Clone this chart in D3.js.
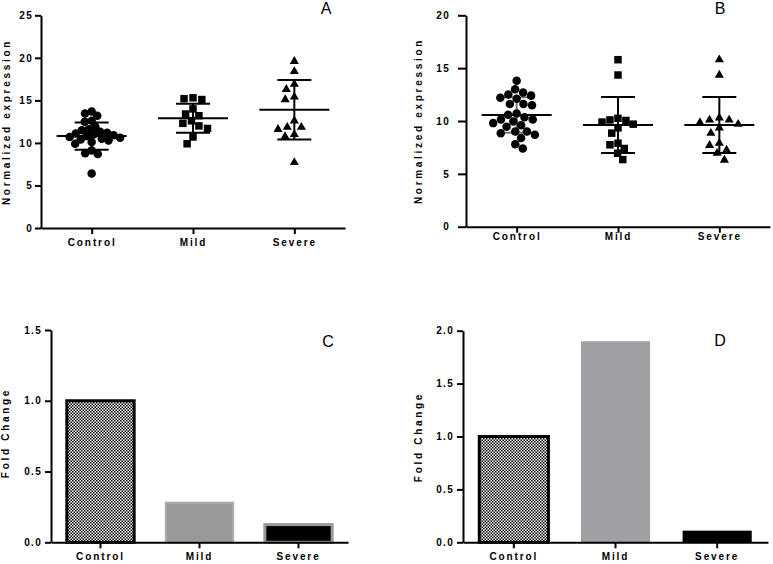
<!DOCTYPE html>
<html><head><meta charset="utf-8">
<script src="https://cdn.jsdelivr.net/npm/d3@7"></script>
<style>
html,body{margin:0;padding:0;background:#fff;}
svg{display:block;}
.tick text{font-family:"Liberation Sans",Arial,sans-serif;font-weight:bold;font-size:10px;fill:#000;}
</style></head>
<body>
<svg id="chart" width="773" height="564"></svg>
<script>
// ---------------- data ----------------
const categories = ["Control", "Mild", "Severe"];
const yTicksA = [0, 5, 10, 15, 20, 25];
const yTicksB = [0, 5, 10, 15, 20];
const yTicksC = [0, 0.5, 1.0, 1.5];
const yTicksD = [0, 0.5, 1.0, 1.5, 2.0];

const A_control = [13.7, 13.45, 13.2, 12.6, 12.5, 11.9, 11.6, 11.5, 11.3, 11.2, 11.1, 11.0, 10.9, 10.8, 10.7, 10.6, 10.5, 10.4, 10.3, 10.1, 9.9, 9.1, 8.8, 8.7, 6.4];
const A_mild = [15.3, 15.2, 15.1, 14.0, 13.4, 13.2, 12.6, 12.3, 12.0, 11.7, 10.7, 9.9];
const A_severe = [19.6, 18.4, 16.9, 16.3, 15.4, 15.1, 12.6, 11.85, 11.85, 11.6, 11.0, 10.75, 7.7];
const A_mean = [10.8, 12.9, 13.9];
const A_sd = [1.6, 1.7, 3.5];

const B_control = [13.8, 13.0, 12.7, 12.5, 12.4, 12.2, 12.1, 11.6, 11.6, 11.5, 10.7, 10.6, 10.35, 10.15, 10.15, 9.95, 9.8, 9.6, 9.45, 9.0, 9.0, 8.85, 8.7, 8.4, 7.8, 7.4];
const B_mild = [15.8, 14.35, 10.25, 10.1, 10.05, 9.9, 9.7, 9.35, 8.85, 7.9, 7.75, 7.4, 6.95, 6.35];
const B_severe = [15.8, 14.35, 10.3, 10.1, 10.1, 9.85, 9.7, 9.35, 8.85, 7.9, 7.7, 7.25, 6.95, 6.3];
const B_mean = [10.57, 9.62, 9.62];
const B_sd = [1.67, 2.65, 2.65];

const C_values = [1.0, 0.28, 0.125];
const D_values = [1.0, 1.9, 0.11];

// ---------------- drawing ----------------
const svg = d3.select("#chart");
const FONT = '"Liberation Sans",Arial,sans-serif';

// checker pattern
const defs = svg.append("defs");
const pat = defs.append("pattern").attr("id", "checker").attr("patternUnits", "userSpaceOnUse")
  .attr("width", 3).attr("height", 3);
pat.append("rect").attr("width", 3).attr("height", 3).attr("fill", "#fff");
pat.append("rect").attr("x", 0).attr("y", 0).attr("width", 1.5).attr("height", 1.5).attr("fill", "#000");
pat.append("rect").attr("x", 1.5).attr("y", 1.5).attr("width", 1.5).attr("height", 1.5).attr("fill", "#000");

function styleAxis(g) {
  g.select(".domain").attr("stroke", "#000").attr("stroke-width", 2);
  g.selectAll(".tick line").attr("stroke", "#000").attr("stroke-width", 2);
  g.selectAll(".tick text").attr("letter-spacing", "1.3px");
}

function catAxis(g, x, y0, labelDy, tickLen) {
  const ax = g.append("g").attr("transform", `translate(0,${y0})`)
    .call(d3.axisBottom(x).tickSize(tickLen).tickSizeOuter(0).tickPadding(labelDy));
  styleAxis(ax);
  ax.selectAll(".tick text").attr("letter-spacing", "1.9px").attr("font-size", "10px");
  return ax;
}

function yAxis(g, y, x0, ticks, fmt, tickLen, pad) {
  const ax = g.append("g").attr("transform", `translate(${x0},0)`)
    .call(d3.axisLeft(y).tickValues(ticks).tickFormat(fmt).tickSize(tickLen).tickSizeOuter(0).tickPadding(pad));
  styleAxis(ax);
  return ax;
}

function yLabel(text, x, y) {
  svg.append("text").attr("transform", `translate(${x},${y}) rotate(-90)`)
    .attr("text-anchor", "middle").attr("font-family", FONT).attr("font-weight", "bold")
    .attr("font-size", "10px").attr("letter-spacing", "2.7px").text(text);
}

function panelLetter(t, x, y) {
  svg.append("text").attr("x", x).attr("y", y).attr("text-anchor", "middle")
    .attr("font-family", FONT).attr("font-size", "16px").text(t);
}

// beeswarm layout (x offset from column center, in pixels)
function swarm(vals, y, D) {
  const order = vals.map((v, i) => i).sort((a, b) => vals[b] - vals[a]);
  const placed = [];
  const out = new Array(vals.length);
  for (const i of order) {
    const py = y(vals[i]);
    const cand = [0];
    const near = placed.filter(p => Math.abs(p.y - py) < D);
    near.forEach(p => {
      const w = Math.sqrt(D * D - (p.y - py) * (p.y - py));
      cand.push(p.x - w, p.x + w);
    });
    cand.sort((a, b) => Math.abs(a) - Math.abs(b) || a - b);
    let best = 0;
    for (const c of cand) {
      if (near.every(p => (p.x - c) ** 2 + (p.y - py) ** 2 >= D * D - 0.01)) { best = c; break; }
    }
    placed.push({x: best, y: py});
    out[i] = {v: vals[i], dx: best};
  }
  return out;
}

function scatterPanel(opt) {
  const g = svg.append("g");
  const x = d3.scalePoint().domain(categories).range(opt.xr).padding(0.5);
  const y = d3.scaleLinear().domain(opt.ydom).range(opt.yr);
  const shapes = [d3.symbolCircle, d3.symbolSquare, d3.symbolTriangle];
  const sizes = [57, 56, 36];
  // error bars
  categories.forEach((c, i) => {
    const cx = x(c), m = opt.mean[i], s = opt.sd[i];
    const eg = g.append("g").attr("stroke", opt.ebColor ? opt.ebColor[i] : "#000").attr("stroke-width", 2);
    eg.append("line").attr("x1", cx).attr("x2", cx).attr("y1", y(m + s)).attr("y2", y(m - s));
    eg.append("line").attr("x1", cx - 17).attr("x2", cx + 17).attr("y1", y(m + s)).attr("y2", y(m + s));
    eg.append("line").attr("x1", cx - 17).attr("x2", cx + 17).attr("y1", y(m - s)).attr("y2", y(m - s));
    eg.append("line").attr("x1", cx - 35).attr("x2", cx + 35).attr("y1", y(m)).attr("y2", y(m)).attr("stroke", "#000");
  });
  // points
  opt.groups.forEach((vals, i) => {
    const cx = x(categories[i]);
    const pts = swarm(vals, y, opt.D[i]);
    g.selectAll(null).data(pts).enter().append("path")
      .attr("d", d3.symbol().type(shapes[i]).size(sizes[i]))
      .attr("transform", d => `translate(${cx + d.dx},${y(d.v)})`)
      .attr("fill", "#000");
  });
  yAxis(g, y, opt.xr[0], opt.yt, d3.format("d"), opt.tickLen, opt.pad);
  catAxis(g, x, opt.yr[0], opt.labelDy, 6);
}

scatterPanel({xr: [41, 345], yr: [228, 15.3], ydom: [0, 25], yt: yTicksA,
  groups: [A_control, A_mild, A_severe], mean: A_mean, sd: A_sd, D: [7, 9, 9.5], tickLen: 6, pad: 2, labelDy: 5});
scatterPanel({xr: [466, 770], yr: [226.7, 15.3], ydom: [0, 20], yt: yTicksB,
  groups: [B_control, B_mild, B_severe], mean: B_mean, sd: B_sd, D: [8.6, 8.2, 10], tickLen: 8, pad: 8, labelDy: 0,
  ebColor: ["#777", "#000", "#000"]});

function barPanel(opt) {
  const g = svg.append("g");
  const x = d3.scaleBand().domain(categories).range(opt.xr).paddingInner(0.32).paddingOuter(0.16);
  const y = d3.scaleLinear().domain(opt.ydom).range(opt.yr);
  g.selectAll(null).data(opt.values).enter().append("rect")
    .attr("x", (d, i) => x(categories[i]))
    .attr("width", x.bandwidth())
    .attr("y", d => y(d))
    .attr("height", d => y(0) - y(d))
    .attr("fill", (d, i) => opt.fill[i])
    .attr("stroke", (d, i) => opt.stroke[i])
    .attr("stroke-width", (d, i) => opt.sw[i]);
  yAxis(g, y, opt.xr[0], opt.yt, d3.format(".1f"), 6, 3);
  catAxis(g, x, opt.yr[0], 5, 6);
}

barPanel({xr: [51, 348], yr: [542.3, 330], ydom: [0, 1.5], yt: yTicksC, values: C_values,
  fill: ["url(#checker)", "#999999", "#000"], stroke: ["#000", "#adadad", "#999"], sw: [3, 2, 3]});
barPanel({xr: [463, 768], yr: [542.3, 330.7], ydom: [0, 2.0], yt: yTicksD, values: D_values,
  fill: ["url(#checker)", "#a0a0a4", "#000"], stroke: ["#000", "none", "none"], sw: [3, 0, 0]});

yLabel("Normalized expression", 9.5, 122);
yLabel("Normalized expression", 421.5, 121);
yLabel("Fold Change", 8.5, 433);
yLabel("Fold Change", 421.5, 437);

panelLetter("A", 326, 14);
panelLetter("B", 720, 14);
panelLetter("C", 328, 346.5);
panelLetter("D", 720, 346);
</script>
</body></html>
